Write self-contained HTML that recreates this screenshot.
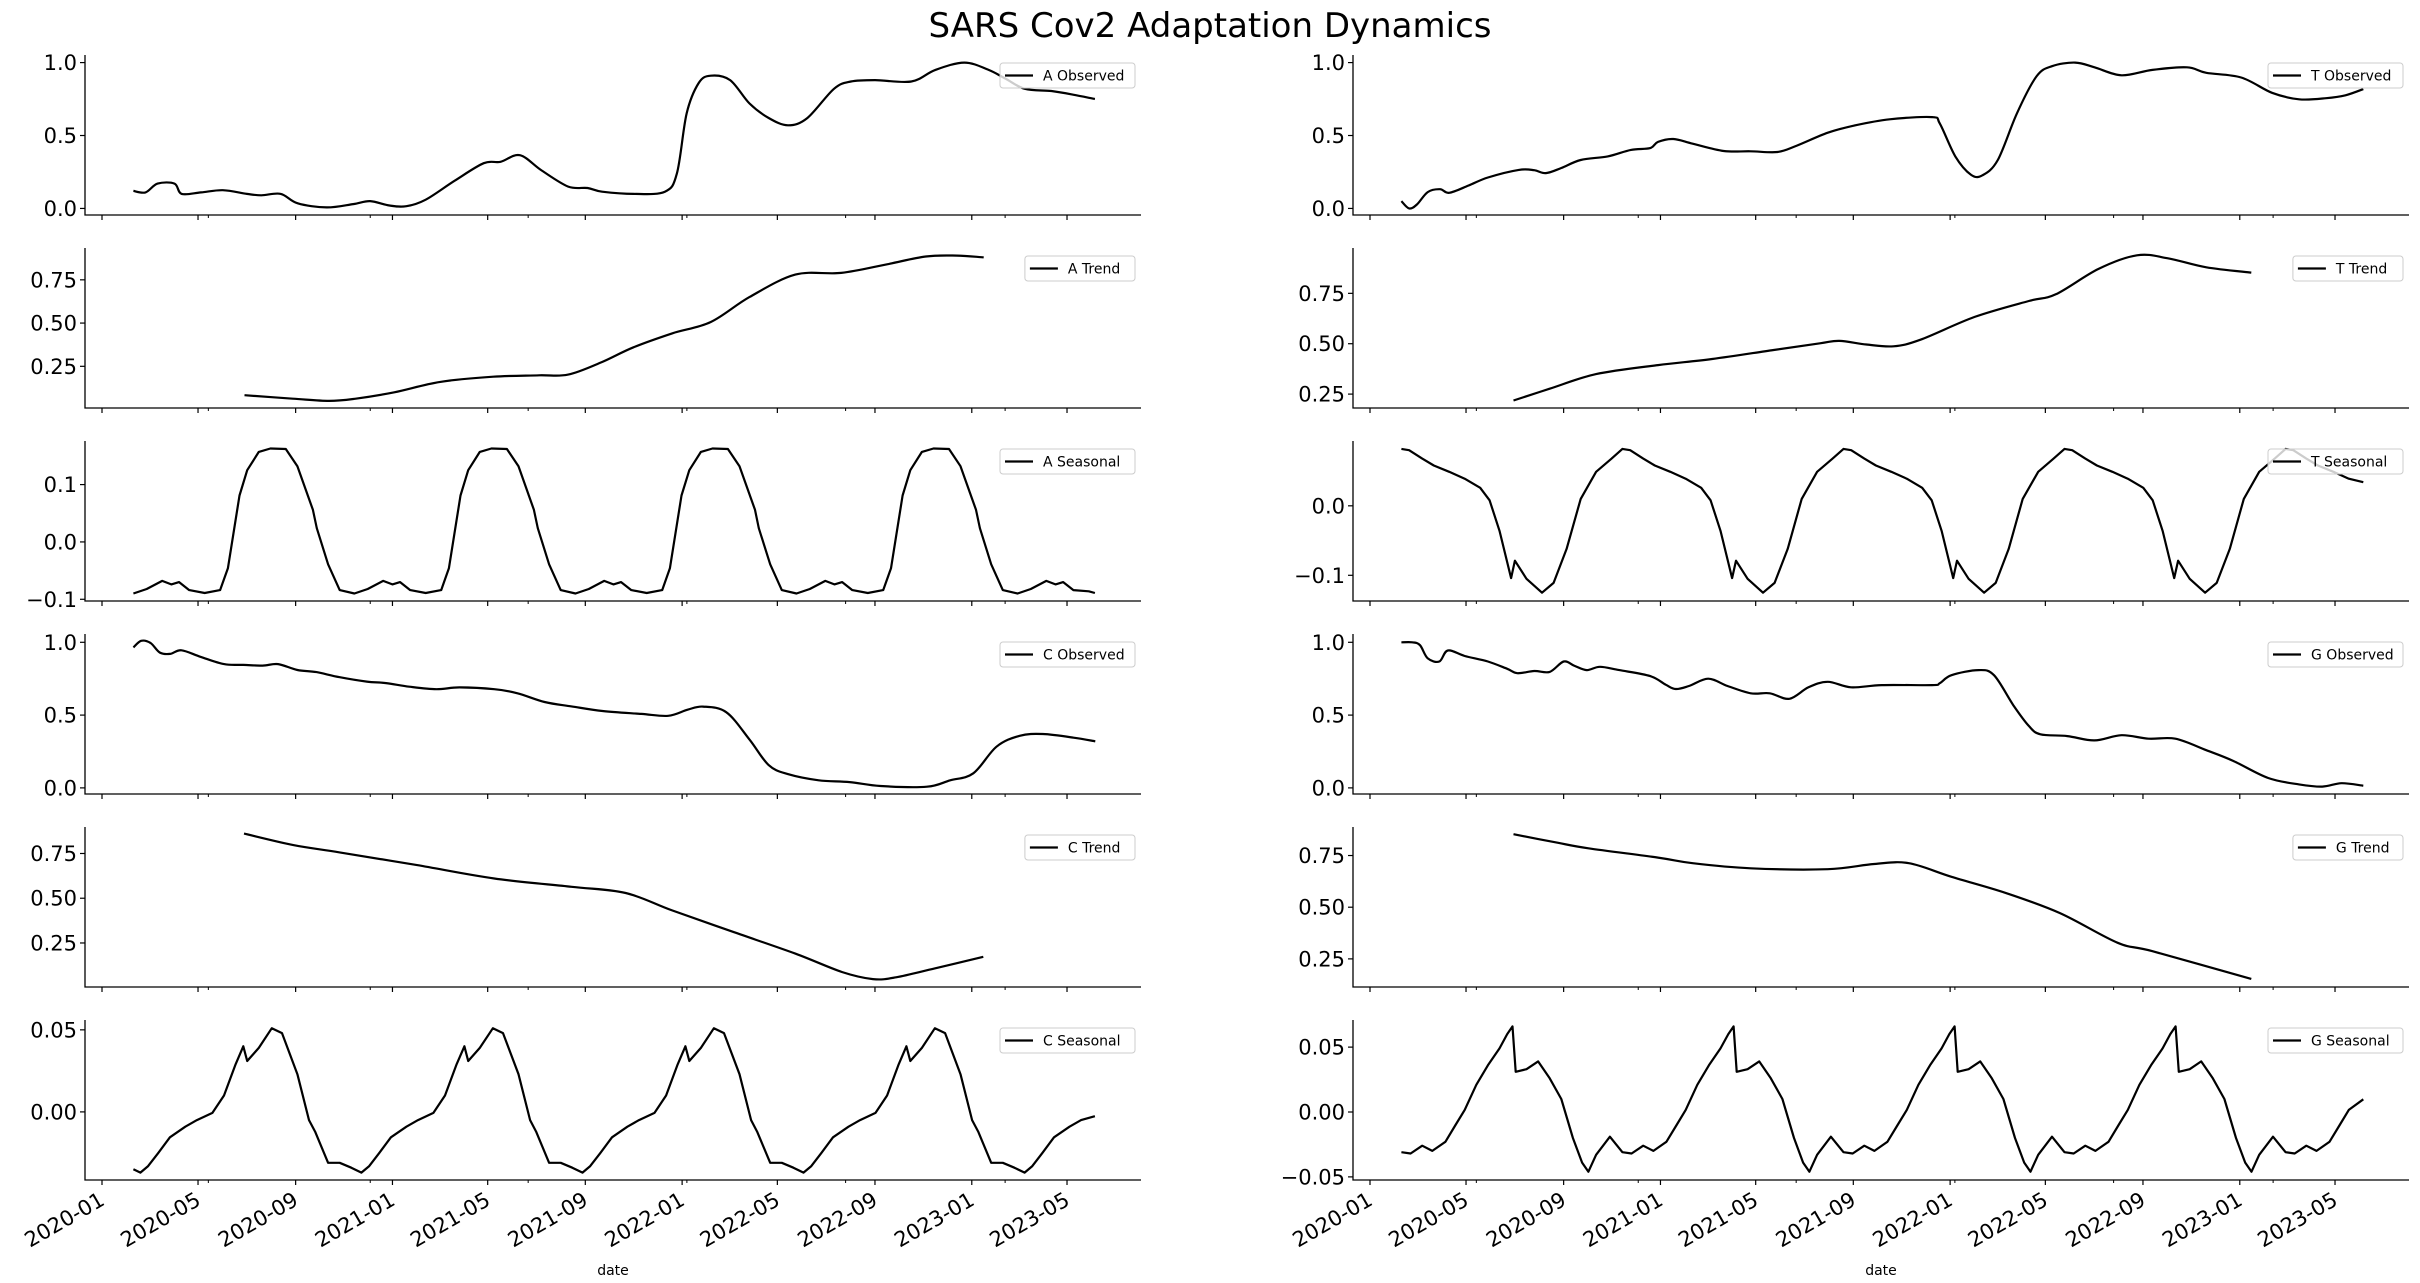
<!DOCTYPE html>
<html><head><meta charset="utf-8"><title>SARS Cov2 Adaptation Dynamics</title>
<style>html,body{margin:0;padding:0;background:#fff;}svg{display:block;font-family:"DejaVu Sans","Liberation Sans",sans-serif;}</style>
</head><body>
<svg id="chart" width="2420" height="1283" viewBox="0 0 2420 1283" xmlns="http://www.w3.org/2000/svg">
<rect width="2420" height="1283" fill="#fff"/>
<text x="1210" y="37" text-anchor="middle" font-size="34" fill="#000">SARS Cov2 Adaptation Dynamics</text>
</svg>
<script>
// x values are months since 2020-01-01
const tickDays = [0,121,244,366,486,609,731,851,974,1096,1216];
const tickLabels = ["2020-01","2020-05","2020-09","2021-01","2021-05","2021-09","2022-01","2022-05","2022-09","2023-01","2023-05"];
const minorTickDays = [134,338,537,737,937,1138];

const aObsM = [1.30,1.80,2.30,3.00,3.30,4.10,5.00,6.00,6.60,7.40,8.10,9.30,10.40,11.10,11.90,12.60,13.40,14.60,15.80,16.50,17.30,18.20,19.30,20.10,20.70,22.00,23.30,23.80,24.20,24.70,25.20,26.00,26.80,27.60,28.40,29.20,30.30,31.00,32.00,33.50,34.50,35.70,36.70,37.40,38.20,39.30,40.20,41.10];
const aObsV = [0.12,0.11,0.17,0.17,0.10,0.11,0.125,0.10,0.09,0.10,0.035,0.007,0.03,0.05,0.02,0.015,0.06,0.19,0.31,0.32,0.365,0.26,0.15,0.14,0.115,0.10,0.115,0.24,0.65,0.86,0.91,0.88,0.72,0.62,0.57,0.62,0.82,0.87,0.88,0.87,0.95,1.0,0.95,0.89,0.82,0.805,0.78,0.75];

const aTrendM = [5.9,7.9,9.4,10.5,12.1,14.0,16.2,18.1,19.3,20.7,22.0,23.6,25.2,26.8,28.7,30.6,32.5,34.1,35.4,36.5];
const aTrendV = [0.083,0.063,0.05,0.063,0.10,0.16,0.19,0.198,0.202,0.275,0.36,0.44,0.506,0.65,0.78,0.79,0.84,0.885,0.89,0.88];

const aSeasM = [1.30,1.85,2.49,2.87,3.19,3.61,4.25,4.89,5.21,5.69,6.01,6.49,6.97,7.61,8.09,8.73,8.89,9.36,9.84,
10.45,11.00,11.64,12.02,12.34,12.76,13.40,14.04,14.36,14.84,15.16,15.64,16.12,16.76,17.24,17.88,18.04,18.51,18.99,
19.60,20.15,20.79,21.17,21.49,21.91,22.55,23.19,23.51,23.99,24.31,24.79,25.27,25.91,26.39,27.03,27.19,27.66,28.14,
28.75,29.30,29.94,30.32,30.64,31.06,31.70,32.34,32.66,33.14,33.46,33.94,34.42,35.06,35.54,36.18,36.34,36.81,37.29,
37.90,38.45,39.09,39.47,39.79,40.21,40.85,41.10];
const aSeasV = [-0.090,-0.082,-0.068,-0.074,-0.070,-0.084,-0.089,-0.084,-0.046,0.081,0.125,0.157,0.163,0.162,0.132,0.056,0.024,-0.039,-0.084,
-0.090,-0.082,-0.068,-0.074,-0.070,-0.084,-0.089,-0.084,-0.046,0.081,0.125,0.157,0.163,0.162,0.132,0.056,0.024,-0.039,-0.084,
-0.090,-0.082,-0.068,-0.074,-0.070,-0.084,-0.089,-0.084,-0.046,0.081,0.125,0.157,0.163,0.162,0.132,0.056,0.024,-0.039,-0.084,
-0.090,-0.082,-0.068,-0.074,-0.070,-0.084,-0.089,-0.084,-0.046,0.081,0.125,0.157,0.163,0.162,0.132,0.056,0.024,-0.039,-0.084,
-0.090,-0.082,-0.068,-0.074,-0.070,-0.084,-0.086,-0.089];

const cObsM = [1.30,1.62,2.01,2.39,2.81,3.29,4.09,5.05,5.85,6.65,7.29,8.09,8.88,9.84,10.96,11.76,12.72,13.84,14.80,16.24,17.20,18.32,19.44,20.72,22.32,23.44,24.24,24.88,25.84,26.80,27.59,28.39,29.67,30.95,32.23,34.15,35.11,36.07,37.03,37.99,38.95,40.22,41.12];
const cObsV = [0.965,1.01,0.995,0.93,0.92,0.945,0.90,0.85,0.845,0.84,0.85,0.81,0.795,0.76,0.73,0.72,0.695,0.678,0.69,0.678,0.65,0.59,0.56,0.528,0.508,0.495,0.537,0.558,0.52,0.333,0.158,0.095,0.052,0.04,0.013,0.008,0.052,0.10,0.283,0.358,0.37,0.345,0.32];

const cTrendM = [5.88,7.92,9.84,13.04,16.24,19.44,21.68,23.60,26.15,28.71,30.63,31.91,32.87,34.47,36.48];
const cTrendV = [0.861,0.797,0.756,0.685,0.61,0.564,0.529,0.432,0.311,0.19,0.088,0.048,0.058,0.108,0.173];

const cSeasM = [1.30,1.59,1.91,2.33,2.81,3.45,3.93,4.57,5.05,5.53,5.85,6.01,6.49,7.03,7.45,8.09,8.57,8.82,9.36,9.84,10.32,
10.74,11.06,11.48,11.96,12.60,13.08,13.72,14.20,14.68,15.00,15.16,15.64,16.18,16.60,17.24,17.72,17.97,18.51,18.99,19.47,
19.89,20.21,20.63,21.11,21.75,22.23,22.87,23.35,23.83,24.15,24.31,24.79,25.33,25.75,26.39,26.87,27.12,27.66,28.14,28.62,
29.04,29.36,29.78,30.26,30.90,31.38,32.02,32.50,32.98,33.30,33.46,33.94,34.48,34.90,35.54,36.02,36.27,36.81,37.29,37.77,
38.19,38.51,38.93,39.41,40.05,40.53,41.10];
const cSeasV = [-0.035,-0.037,-0.033,-0.025,-0.0155,-0.009,-0.005,-0.0006,0.010,0.029,0.040,0.031,0.039,0.051,0.048,0.023,-0.005,-0.012,-0.031,-0.031,-0.034,
-0.037,-0.033,-0.025,-0.0155,-0.009,-0.005,-0.0006,0.010,0.029,0.040,0.031,0.039,0.051,0.048,0.023,-0.005,-0.012,-0.031,-0.031,-0.034,
-0.037,-0.033,-0.025,-0.0155,-0.009,-0.005,-0.0006,0.010,0.029,0.040,0.031,0.039,0.051,0.048,0.023,-0.005,-0.012,-0.031,-0.031,-0.034,
-0.037,-0.033,-0.025,-0.0155,-0.009,-0.005,-0.0006,0.010,0.029,0.040,0.031,0.039,0.051,0.048,0.023,-0.005,-0.012,-0.031,-0.031,-0.034,
-0.037,-0.033,-0.025,-0.0155,-0.009,-0.005,-0.0026];

const tObsM = [1.30,1.62,1.94,2.39,2.90,3.28,4.08,4.88,6.16,6.80,7.28,7.92,8.72,9.84,10.80,11.60,11.92,12.56,13.36,14.64,15.75,16.87,17.67,18.95,20.07,21.51,23.27,23.59,24.23,24.87,25.35,25.99,26.79,27.59,28.23,29.19,29.99,31.11,32.39,33.82,34.62,36.06,37.34,38.46,39.58,40.38,41.12];
const tObsV = [0.05,0.0,0.027,0.112,0.132,0.107,0.157,0.212,0.264,0.262,0.242,0.277,0.332,0.357,0.401,0.414,0.456,0.476,0.444,0.394,0.392,0.387,0.431,0.519,0.569,0.611,0.626,0.581,0.357,0.232,0.227,0.332,0.656,0.905,0.975,1.0,0.968,0.913,0.95,0.968,0.93,0.898,0.793,0.748,0.756,0.776,0.818];

const tTrendM = [5.94,7.44,9.36,11.92,14.16,16.71,18.63,19.43,20.55,21.67,22.79,25.03,27.27,28.39,30.15,31.75,33.03,34.62,36.48];
const tTrendV = [0.218,0.277,0.349,0.394,0.424,0.469,0.502,0.514,0.496,0.487,0.52,0.633,0.712,0.745,0.871,0.939,0.924,0.879,0.853];

const tSeasM = [1.30,1.62,2.16,2.64,3.28,3.92,4.56,4.95,5.36,5.84,6.00,6.48,7.12,7.60,8.14,8.72,9.36,10.00,
10.45,10.77,11.31,11.79,12.43,13.07,13.71,14.10,14.51,14.99,15.15,15.63,16.27,16.75,17.29,17.87,18.51,19.15,
19.60,19.92,20.46,20.94,21.58,22.22,22.86,23.25,23.66,24.14,24.30,24.78,25.42,25.90,26.44,27.02,27.66,28.30,
28.75,29.07,29.61,30.09,30.73,31.37,32.01,32.40,32.81,33.29,33.45,33.93,34.57,35.05,35.59,36.17,36.81,37.45,
37.90,38.22,38.76,39.24,39.88,40.52,41.12];
const tSeasV = [0.082,0.080,0.068,0.058,0.049,0.039,0.026,0.008,-0.036,-0.104,-0.079,-0.105,-0.125,-0.111,-0.062,0.010,0.049,0.068,
0.082,0.080,0.068,0.058,0.049,0.039,0.026,0.008,-0.036,-0.104,-0.079,-0.105,-0.125,-0.111,-0.062,0.010,0.049,0.068,
0.082,0.080,0.068,0.058,0.049,0.039,0.026,0.008,-0.036,-0.104,-0.079,-0.105,-0.125,-0.111,-0.062,0.010,0.049,0.068,
0.082,0.080,0.068,0.058,0.049,0.039,0.026,0.008,-0.036,-0.104,-0.079,-0.105,-0.125,-0.111,-0.062,0.010,0.049,0.068,
0.082,0.080,0.068,0.058,0.049,0.039,0.034];

const gObsM = [1.30,1.75,2.07,2.39,2.87,3.22,3.92,4.88,5.68,6.10,6.80,7.44,8.02,8.47,8.97,9.52,10.32,11.60,12.24,12.65,13.20,14.00,14.80,15.76,16.55,17.36,18.15,18.95,19.91,21.19,23.27,23.59,24.07,25.19,25.83,26.63,27.27,27.75,28.87,29.99,31.11,32.23,33.34,34.62,35.74,37.18,38.46,39.42,40.22,41.12];
const gObsV = [1.0,1.0,0.98,0.89,0.868,0.944,0.906,0.868,0.818,0.788,0.803,0.797,0.868,0.838,0.809,0.832,0.809,0.768,0.709,0.679,0.70,0.75,0.70,0.65,0.65,0.612,0.691,0.729,0.691,0.706,0.706,0.72,0.774,0.809,0.774,0.568,0.426,0.368,0.356,0.326,0.362,0.338,0.338,0.259,0.185,0.068,0.024,0.009,0.032,0.015];

const gTrendM = [5.94,7.76,9.04,11.92,13.36,15.76,18.95,20.87,22.31,24.07,26.31,28.55,30.95,32.39,36.48];
const gTrendV = [0.853,0.812,0.785,0.74,0.713,0.688,0.684,0.709,0.713,0.647,0.569,0.472,0.328,0.287,0.153];

const gSeasM = [1.30,1.68,2.16,2.58,3.12,3.54,3.92,4.40,4.88,5.36,5.68,5.90,6.03,6.48,6.96,7.44,7.92,8.40,8.78,9.04,9.36,9.93,
10.45,10.83,11.31,11.73,12.27,12.69,13.07,13.55,14.03,14.51,14.83,15.05,15.18,15.63,16.11,16.59,17.07,17.55,17.93,18.19,18.51,19.08,
19.60,19.98,20.46,20.88,21.42,21.84,22.22,22.70,23.18,23.66,23.98,24.20,24.33,24.78,25.26,25.74,26.22,26.70,27.08,27.34,27.66,28.23,
28.75,29.13,29.61,30.03,30.57,30.99,31.37,31.85,32.33,32.81,33.13,33.35,33.48,33.93,34.41,34.89,35.37,35.85,36.23,36.49,36.81,37.38,
37.90,38.28,38.76,39.18,39.72,40.14,40.52,41.12];
const gSeasV = [-0.031,-0.032,-0.026,-0.030,-0.023,-0.010,0.0016,0.021,0.036,0.049,0.060,0.066,0.031,0.033,0.039,0.026,0.010,-0.020,-0.039,-0.046,-0.033,-0.019,
-0.031,-0.032,-0.026,-0.030,-0.023,-0.010,0.0016,0.021,0.036,0.049,0.060,0.066,0.031,0.033,0.039,0.026,0.010,-0.020,-0.039,-0.046,-0.033,-0.019,
-0.031,-0.032,-0.026,-0.030,-0.023,-0.010,0.0016,0.021,0.036,0.049,0.060,0.066,0.031,0.033,0.039,0.026,0.010,-0.020,-0.039,-0.046,-0.033,-0.019,
-0.031,-0.032,-0.026,-0.030,-0.023,-0.010,0.0016,0.021,0.036,0.049,0.060,0.066,0.031,0.033,0.039,0.026,0.010,-0.020,-0.039,-0.046,-0.033,-0.019,
-0.031,-0.032,-0.026,-0.030,-0.023,-0.010,0.0016,0.0098];

const panels = [
 {col:0,row:0,label:"A Observed",m:aObsM,v:aObsV,ylim:[-0.045,1.052],ticks:[0,0.5,1.0],fmt:1,smooth:true},
 {col:0,row:1,label:"A Trend",m:aTrendM,v:aTrendV,ylim:[0.009,0.934],ticks:[0.25,0.5,0.75],fmt:2,smooth:true},
 {col:0,row:2,label:"A Seasonal",m:aSeasM,v:aSeasV,ylim:[-0.103,0.176],ticks:[-0.1,0.0,0.1],fmt:1,smooth:false},
 {col:0,row:3,label:"C Observed",m:cObsM,v:cObsV,ylim:[-0.042,1.057],ticks:[0,0.5,1.0],fmt:1,smooth:true},
 {col:0,row:4,label:"C Trend",m:cTrendM,v:cTrendV,ylim:[0.004,0.898],ticks:[0.25,0.5,0.75],fmt:2,smooth:true},
 {col:0,row:5,label:"C Seasonal",m:cSeasM,v:cSeasV,ylim:[-0.0415,0.056],ticks:[0,0.05],fmt:2,smooth:false},
 {col:1,row:0,label:"T Observed",m:tObsM,v:tObsV,ylim:[-0.045,1.052],ticks:[0,0.5,1.0],fmt:1,smooth:true},
 {col:1,row:1,label:"T Trend",m:tTrendM,v:tTrendV,ylim:[0.181,0.975],ticks:[0.25,0.5,0.75],fmt:2,smooth:true},
 {col:1,row:2,label:"T Seasonal",m:tSeasM,v:tSeasV,ylim:[-0.137,0.0933],ticks:[-0.1,0.0],fmt:1,smooth:false},
 {col:1,row:3,label:"G Observed",m:gObsM,v:gObsV,ylim:[-0.042,1.057],ticks:[0,0.5,1.0],fmt:1,smooth:true},
 {col:1,row:4,label:"G Trend",m:gTrendM,v:gTrendV,ylim:[0.114,0.888],ticks:[0.25,0.5,0.75],fmt:2,smooth:true},
 {col:1,row:5,label:"G Seasonal",m:gSeasM,v:gSeasV,ylim:[-0.0524,0.0709],ticks:[-0.05,0,0.05],fmt:2,smooth:false}
];

const NS = "http://www.w3.org/2000/svg";
const svg = document.getElementById("chart");
const AX_L = [85,1353], AX_R = [1141,2409], X0 = [102,1370];
const PX_PER_DAY = 0.7936;
function mk(tag, attrs, parent){ const e=document.createElementNS(NS,tag); for(const k in attrs) e.setAttribute(k,attrs[k]); (parent||svg).appendChild(e); return e; }
function xDay(col,d){ return X0[col] + d*PX_PER_DAY; }
function xMonth(col,m){ return xDay(col, m*30.44); }
function fmtTick(v,f){ const s=v.toFixed(f); return v<0 ? "\u2212"+s.slice(1) : s; }
function pathFrom(pts, smooth){
  let d = "M"+pts[0][0].toFixed(1)+" "+pts[0][1].toFixed(1);
  for(let i=1;i<pts.length;i++){
    if(!smooth){ d += "L"+pts[i][0].toFixed(1)+" "+pts[i][1].toFixed(1); continue; }
    const p0=pts[Math.max(0,i-2)], p1=pts[i-1], p2=pts[i], p3=pts[Math.min(pts.length-1,i+1)];
    const c1x=p1[0]+(p2[0]-p0[0])/6, c1y=p1[1]+(p2[1]-p0[1])/6;
    const c2x=p2[0]-(p3[0]-p1[0])/6, c2y=p2[1]-(p3[1]-p1[1])/6;
    d += "C"+c1x.toFixed(1)+" "+c1y.toFixed(1)+" "+c2x.toFixed(1)+" "+c2y.toFixed(1)+" "+p2[0].toFixed(1)+" "+p2[1].toFixed(1);
  }
  return d;
}

panels.forEach(p=>{
  const top = 55 + 193*p.row, bot = top + 160;
  const L = AX_L[p.col], R = AX_R[p.col];
  const y = v => bot - (v - p.ylim[0])/(p.ylim[1]-p.ylim[0])*(bot-top);
  const slug = p.label.toLowerCase().replace(/ /g,'-');
  const g = mk('g',{});
  
  
  const pts = p.m.map((m,i)=>[xMonth(p.col,m), y(p.v[i])]);
  const path = mk('path',{d:pathFrom(pts,p.smooth),fill:'none',stroke:'#000','stroke-width':2.2,'stroke-linejoin':'round'},g);
  
  
  const sp = mk('path',{d:`M${L} ${top}V${bot}H${R}`,fill:'none',stroke:'#000','stroke-width':1.3},g);
  
  
  p.ticks.forEach(t=>{
    const ty = y(t);
    mk('line',{x1:L-5,x2:L,y1:ty,y2:ty,stroke:'#000','stroke-width':1.2},g);
    const tx = mk('text',{x:L-8,y:ty+7.5,'text-anchor':'end','font-size':21,fill:'#000'},g);
    tx.textContent = fmtTick(t,p.fmt);
    
    
  });
  tickDays.forEach((dd,i)=>{
    const tx = xDay(p.col,dd);
    mk('line',{x1:tx,x2:tx,y1:bot,y2:bot+5,stroke:'#000','stroke-width':1.2},g);
    if(p.row===5){
      const t = mk('text',{x:0,y:0,'text-anchor':'end','font-size':21,fill:'#000',transform:`translate(${tx+4},${bot+24}) rotate(-30)`},g);
      t.textContent = tickLabels[i];
      
      
    }
  });
  minorTickDays.forEach(dd=>{
    const tx = xDay(p.col,dd);
    mk('line',{x1:tx,x2:tx,y1:bot,y2:bot+3,stroke:'#000','stroke-width':1},g);
  });
  const lg = mk('g',{},g);
  
  
  const tw = p.label.length*8.3;
  const bw = 52 + tw, bx = R - 6 - bw, by = top + 8;
  mk('rect',{x:bx,y:by,width:bw,height:25,rx:3,fill:'#fff','fill-opacity':0.8,stroke:'#ccc','stroke-width':1},lg);
  mk('line',{x1:bx+5,x2:bx+33,y1:by+12.5,y2:by+12.5,stroke:'#000','stroke-width':2.2},lg);
  const lt = mk('text',{x:bx+43,y:by+17.5,'font-size':14,fill:'#000'},lg);
  lt.textContent = p.label;
  
  
  if(p.row===5){
    const xl = mk('text',{x:(L+R)/2,y:1275,'text-anchor':'middle','font-size':14,fill:'#000'},g);
    xl.textContent = 'date';
    
    
  }
});
</script>
</body></html>
